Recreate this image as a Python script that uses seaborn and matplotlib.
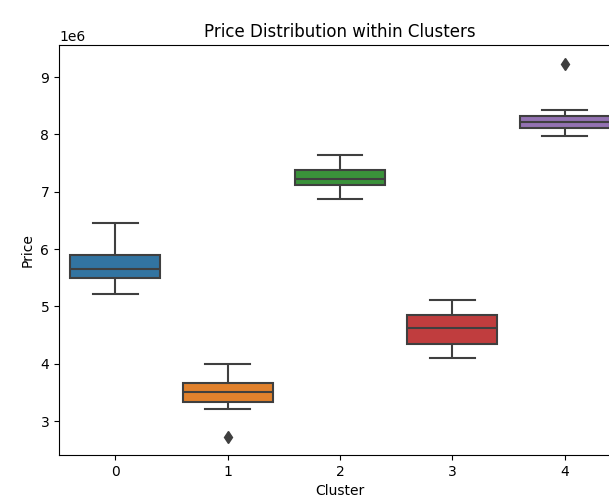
import matplotlib
matplotlib.use("Agg")
import matplotlib.pyplot as plt
import seaborn as sns
import pandas as pd

clusters = ["0", "1", "2", "3", "4"]
# observed prices per cluster (9 observations each)
price_c0 = [5220000, 5380000, 5500000, 5580000, 5650000, 5760000, 5900000, 6150000, 6450000]
price_c1 = [2730000, 3210000, 3340000, 3430000, 3510000, 3580000, 3660000, 3800000, 4000000]
price_c2 = [6870000, 7020000, 7120000, 7170000, 7220000, 7300000, 7380000, 7500000, 7640000]
price_c3 = [4100000, 4250000, 4350000, 4500000, 4620000, 4740000, 4850000, 4980000, 5110000]
price_c4 = [7970000, 8050000, 8110000, 8170000, 8220000, 8270000, 8320000, 8430000, 9230000]

series = [price_c0, price_c1, price_c2, price_c3, price_c4]
rows = []
for c, vals in zip(clusters, series):
    for v in vals:
        rows.append({"Cluster": c, "Price": v})
df = pd.DataFrame(rows)

fig = plt.figure(figsize=(6.09, 4.99), dpi=100)
ax = fig.add_axes([59 / 609, 1 - 455 / 499, 562 / 609, 410 / 499])
sns.boxplot(data=df, x="Cluster", y="Price", hue="Cluster", order=clusters,
            hue_order=clusters, palette="tab10", legend=False, ax=ax,
            linewidth=1.5, linecolor="#3f3f3f",
            flierprops=dict(marker="d", markerfacecolor="#3f3f3f",
                            markeredgecolor="#3f3f3f", markersize=6))
ax.set_ylim(2.41e6, 9.56e6)
ax.set_title("Price Distribution within Clusters")
ax.set_xlabel("Cluster")
ax.set_ylabel("Price")
fig.savefig("out.png", dpi=100)
